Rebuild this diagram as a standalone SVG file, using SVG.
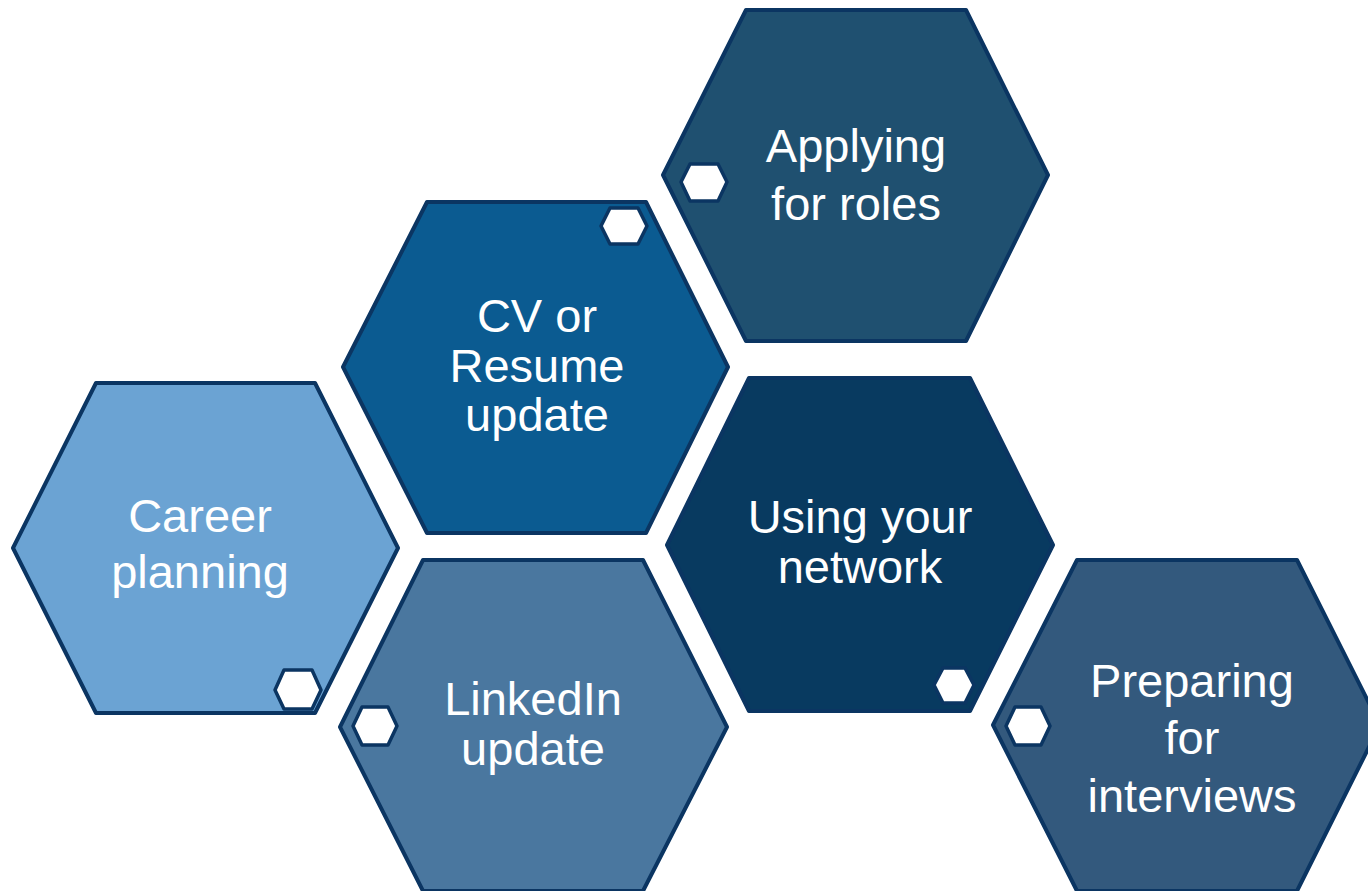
<svg xmlns="http://www.w3.org/2000/svg" width="1368" height="891" viewBox="0 0 1368 891">
<style>
.hex{stroke:#0B3562;stroke-width:4;stroke-linejoin:round}
.mini{fill:#FFFFFF;stroke:#0B3562;stroke-width:3.5;stroke-linejoin:round}
.lbl{font-family:"Liberation Sans",Arial,sans-serif;font-size:47px;fill:#FFFFFF;text-anchor:middle}
</style>
<rect width="1368" height="891" fill="#FFFFFF"/>
<g id="connectors"></g>
<g id="applying">
<polygon class="hex" fill="#1F5070" points="746,10 966,10 1048,175 966,341 746,341 663,175"/>
<polygon class="mini" points="681,182 690,164 718,164 727,182 718,201 690,201"/>
<text class="lbl" x="856" y="162">Applying</text>
<text class="lbl" x="856" y="220">for roles</text>
</g>
<g id="cv">
<polygon class="hex" fill="#0B5B91" points="427,202 646,202 728,367 646,533 427,533 343,367"/>
<polygon class="mini" points="601,226 610,208 638,208 647,226 638,244 610,244"/>
<text class="lbl" x="537" y="332">CV or</text>
<text class="lbl" x="537" y="382">Resume</text>
<text class="lbl" x="537" y="431">update</text>
</g>
<g id="career">
<polygon class="hex" fill="#6BA3D3" points="96,383 315,383 398,548 315,713 96,713 13,548"/>
<polygon class="mini" points="275,690 284,670 312,670 321,690 312,709 284,709"/>
<text class="lbl" x="200" y="532">Career</text>
<text class="lbl" x="200" y="588">planning</text>
</g>
<g id="network">
<polygon class="hex" fill="#083A60" points="749,378 970,378 1053,545 970,711 749,711 667,545"/>
<polygon class="mini" points="934,685 943,668 965,668 974,685 965,703 943,703"/>
<text class="lbl" x="860" y="533">Using your</text>
<text class="lbl" x="860" y="583">network</text>
</g>
<g id="linkedin">
<polygon class="hex" fill="#4A779F" points="423,560 643,560 727,727 643,891 423,891 340,727"/>
<polygon class="mini" points="353,726 362,707 388,707 397,726 388,745 362,745"/>
<text class="lbl" x="533" y="715">LinkedIn</text>
<text class="lbl" x="533" y="765">update</text>
</g>
<g id="preparing">
<polygon class="hex" fill="#33597D" points="1077,560 1297,560 1380,725 1297,891 1077,891 993,725"/>
<polygon class="mini" points="1006,726 1015,707 1041,707 1050,726 1041,745 1015,745"/>
<text class="lbl" x="1192" y="697">Preparing</text>
<text class="lbl" x="1192" y="754">for</text>
<text class="lbl" x="1192" y="812">interviews</text>
</g>
</svg>
